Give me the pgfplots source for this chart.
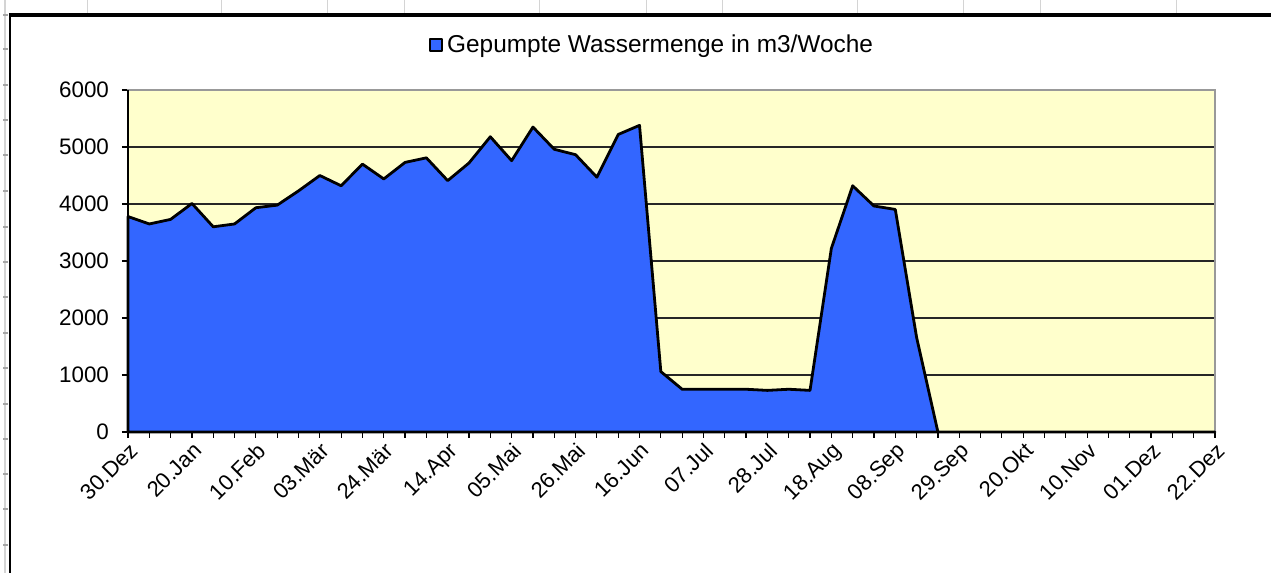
\documentclass[border=0pt]{standalone}
\usepackage{fontspec}
\setmainfont{Liberation Sans}
\usepackage{pgfplots}
\pgfplotsset{compat=1.18}

\definecolor{wasser}{HTML}{3366FF}
\definecolor{bgyellow}{HTML}{FFFFCC}
\definecolor{cellgray}{HTML}{D4D4D4}

\pgfplotstableread{
x y
0 3780
1 3650
2 3730
3 4010
4 3600
5 3650
6 3935
7 3980
8 4230
9 4500
10 4320
11 4700
12 4440
13 4730
14 4810
15 4410
16 4720
17 5180
18 4760
19 5350
20 4960
21 4865
22 4470
23 5220
24 5380
25 1060
26 750
27 750
28 750
29 750
30 730
31 750
32 730
33 3220
34 4320
35 3965
36 3905
37 1660
38 0
39 0
40 0
41 0
42 0
43 0
44 0
45 0
46 0
47 0
48 0
49 0
50 0
51 0
}\pumpdata

\begin{document}
\begin{tikzpicture}
\useasboundingbox (0,0) rectangle (635.5pt,286.5pt);
% spreadsheet frame around the chart
\begin{scope}[x=0.5pt,y=0.5pt]
  \foreach \cx in {87,221,327,404,539,646,722,857,963,1040,1176}
    \draw[cellgray, line width=0.5pt] (\cx,573) -- (\cx,558);
  \draw[cellgray, line width=0.8pt] (5,573) -- (5,0);
  \foreach \cy in {15,49,85,120,155,191,227,262,297,333,368,404,439,474,509,545}
    \draw[gray!70, line width=0.6pt] (3,573-\cy) -- (8,573-\cy);
  \draw[black, line width=2pt] (9,558) -- (1271,558);
  \draw[black, line width=1pt] (10,558) -- (10,0);
\end{scope}

\begin{axis}[
    at={(64pt,70.5pt)}, anchor=south west,
    scale only axis,
    width=543.5pt, height=171pt,
    xmin=0, xmax=51,
    ymin=0, ymax=6000,
    axis background/.style={fill=bgyellow},
    axis line style={draw=gray!80, line width=1pt},
    xtick={0,3,...,51},
    minor xtick={0,1,...,51},
    xticklabels={30.Dez,20.Jan,10.Feb,03.Mär,24.Mär,14.Apr,05.Mai,26.Mai,16.Jun,07.Jul,28.Jul,18.Aug,08.Sep,29.Sep,20.Okt,10.Nov,01.Dez,22.Dez},
    xticklabel style={font=\fontsize{11}{13}\selectfont, rotate=45, anchor=north east, inner sep=1pt},
    ytick={0,1000,...,6000},
    yticklabel style={font=\fontsize{11.2}{13}\selectfont, xshift=-3pt},
    /pgf/number format/1000 sep={},
    /pgf/number format/assume math mode=true,
    tick align=outside,
    tick pos=left,
    major tick length=3pt,
    minor tick length=3pt,
    every tick/.style={black, line width=0.6pt},
    ymajorgrids,
    grid style={black!85, line width=0.7pt},
    legend style={at={(axis description cs:0.483,1.132)}, anchor=center,
      draw=none, fill=none, font=\fontsize{12.2}{14}\selectfont},
    legend image code/.code={\draw[fill=wasser, draw=black, line width=1.1pt] (0pt,-3pt) rectangle (6pt,3pt);},
    clip=false,
]
\addplot[fill=wasser, draw=black, line width=1.4pt, line join=round] table[x=x, y=y] {\pumpdata} \closedcycle;
\addlegendentry{Gepumpte Wassermenge in m3/Woche}
\draw[black, line width=1.2pt] (rel axis cs:0,0) -- (rel axis cs:1,0);
\draw[black, line width=0.8pt] (rel axis cs:0,0) -- (rel axis cs:0,1);
\end{axis}
\end{tikzpicture}
\end{document}
